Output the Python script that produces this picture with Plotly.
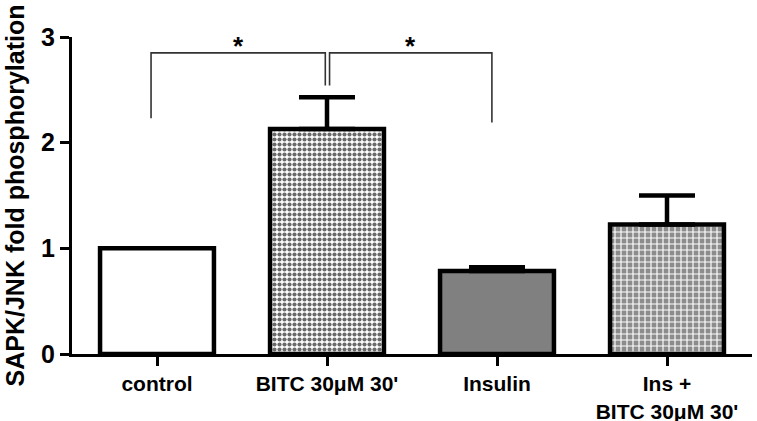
import plotly.graph_objects as go

categories = ["control", "BITC 30μM 30'", "Insulin", "Ins +<br>BITC 30μM 30'"]
values = [1.0, 2.13, 0.785, 1.225]
errors_plus = [None, 0.30, 0.035, 0.275]
y_ticks = [0, 1, 2, 3]
y_title = "SAPK/JNK fold phosphorylation"

# significance brackets: (x_start_idx, x_end_idx, left leg bottom, right leg bottom, label, dx_start, dx_end)
brackets = [
    (0, 1, 2.23, 2.54, "*", -0.035, -0.01),
    (1, 2, 2.54, 2.19, "*", 0.015, -0.03),
]
bracket_top = 2.85

x = list(range(len(categories)))

fill_colors = ["white", "white", "#808080", "white"]
patterns = [
    dict(shape=""),
    dict(shape=".", fgcolor="#6a6a6a", bgcolor="white", size=5, solidity=0.55, fillmode="replace"),
    dict(shape=""),
    dict(shape="+", fgcolor="white", bgcolor="#8c8c8c", size=6, solidity=0.35, fillmode="replace"),
]

fig = go.Figure()
for i in x:
    fig.add_trace(go.Bar(
        x=[i], y=[values[i]], width=0.67,
        marker=dict(color=fill_colors[i], pattern=patterns[i],
                    line=dict(color="black", width=4.5)),
        error_y=dict(type="data", array=[errors_plus[i]], arrayminus=[0], symmetric=False,
                     visible=errors_plus[i] is not None, color="black", thickness=4.5, width=28),
        showlegend=False,
    ))

font_fam = "Liberation Sans, Arial, sans-serif"

for (a, b, la, lb, lab, da, db) in brackets:
    xa, xb = a + da, b + db
    fig.add_shape(type="path",
                  path=f"M {xa} {la} L {xa} {bracket_top} L {xb} {bracket_top} L {xb} {lb}",
                  line=dict(color="#333333", width=1.6), xref="x", yref="y")
    fig.add_annotation(x=(xa + xb) / 2, y=bracket_top, text=lab, showarrow=False,
                       yanchor="bottom", yshift=-10,
                       font=dict(family=font_fam, size=26, color="black", weight="bold"))

fig.update_layout(
    width=757, height=421,
    margin=dict(l=72, r=5, t=37, b=67),
    plot_bgcolor="white", paper_bgcolor="white",
    bargap=0.33,
    font=dict(family=font_fam, color="black", weight="bold"),
    xaxis=dict(range=[-0.5, 3.5], tickmode="array", tickvals=x, ticktext=categories,
               showline=True, linecolor="black", linewidth=3, automargin=False,
               ticks="outside", ticklen=9, tickwidth=3, tickcolor="black",
               showgrid=False, zeroline=False, ticklabelstandoff=0,
               tickfont=dict(family=font_fam, size=21, color="black", weight="bold")),
    yaxis=dict(range=[0, 3], tickmode="array", tickvals=y_ticks,
               showline=True, linecolor="black", linewidth=3, automargin=False,
               ticks="outside", ticklen=9, tickwidth=3, tickcolor="black",
               showgrid=False, zeroline=False,
               tickfont=dict(family=font_fam, size=25, color="black", weight="bold"),
               title=dict(text=y_title, standoff=10,
                          font=dict(family=font_fam, size=25, color="black", weight="bold"))),
)

fig.write_html("out.html", config={"displayModeBar": False},
               post_script="document.body.style.margin='0';document.body.style.overflow='hidden';")
